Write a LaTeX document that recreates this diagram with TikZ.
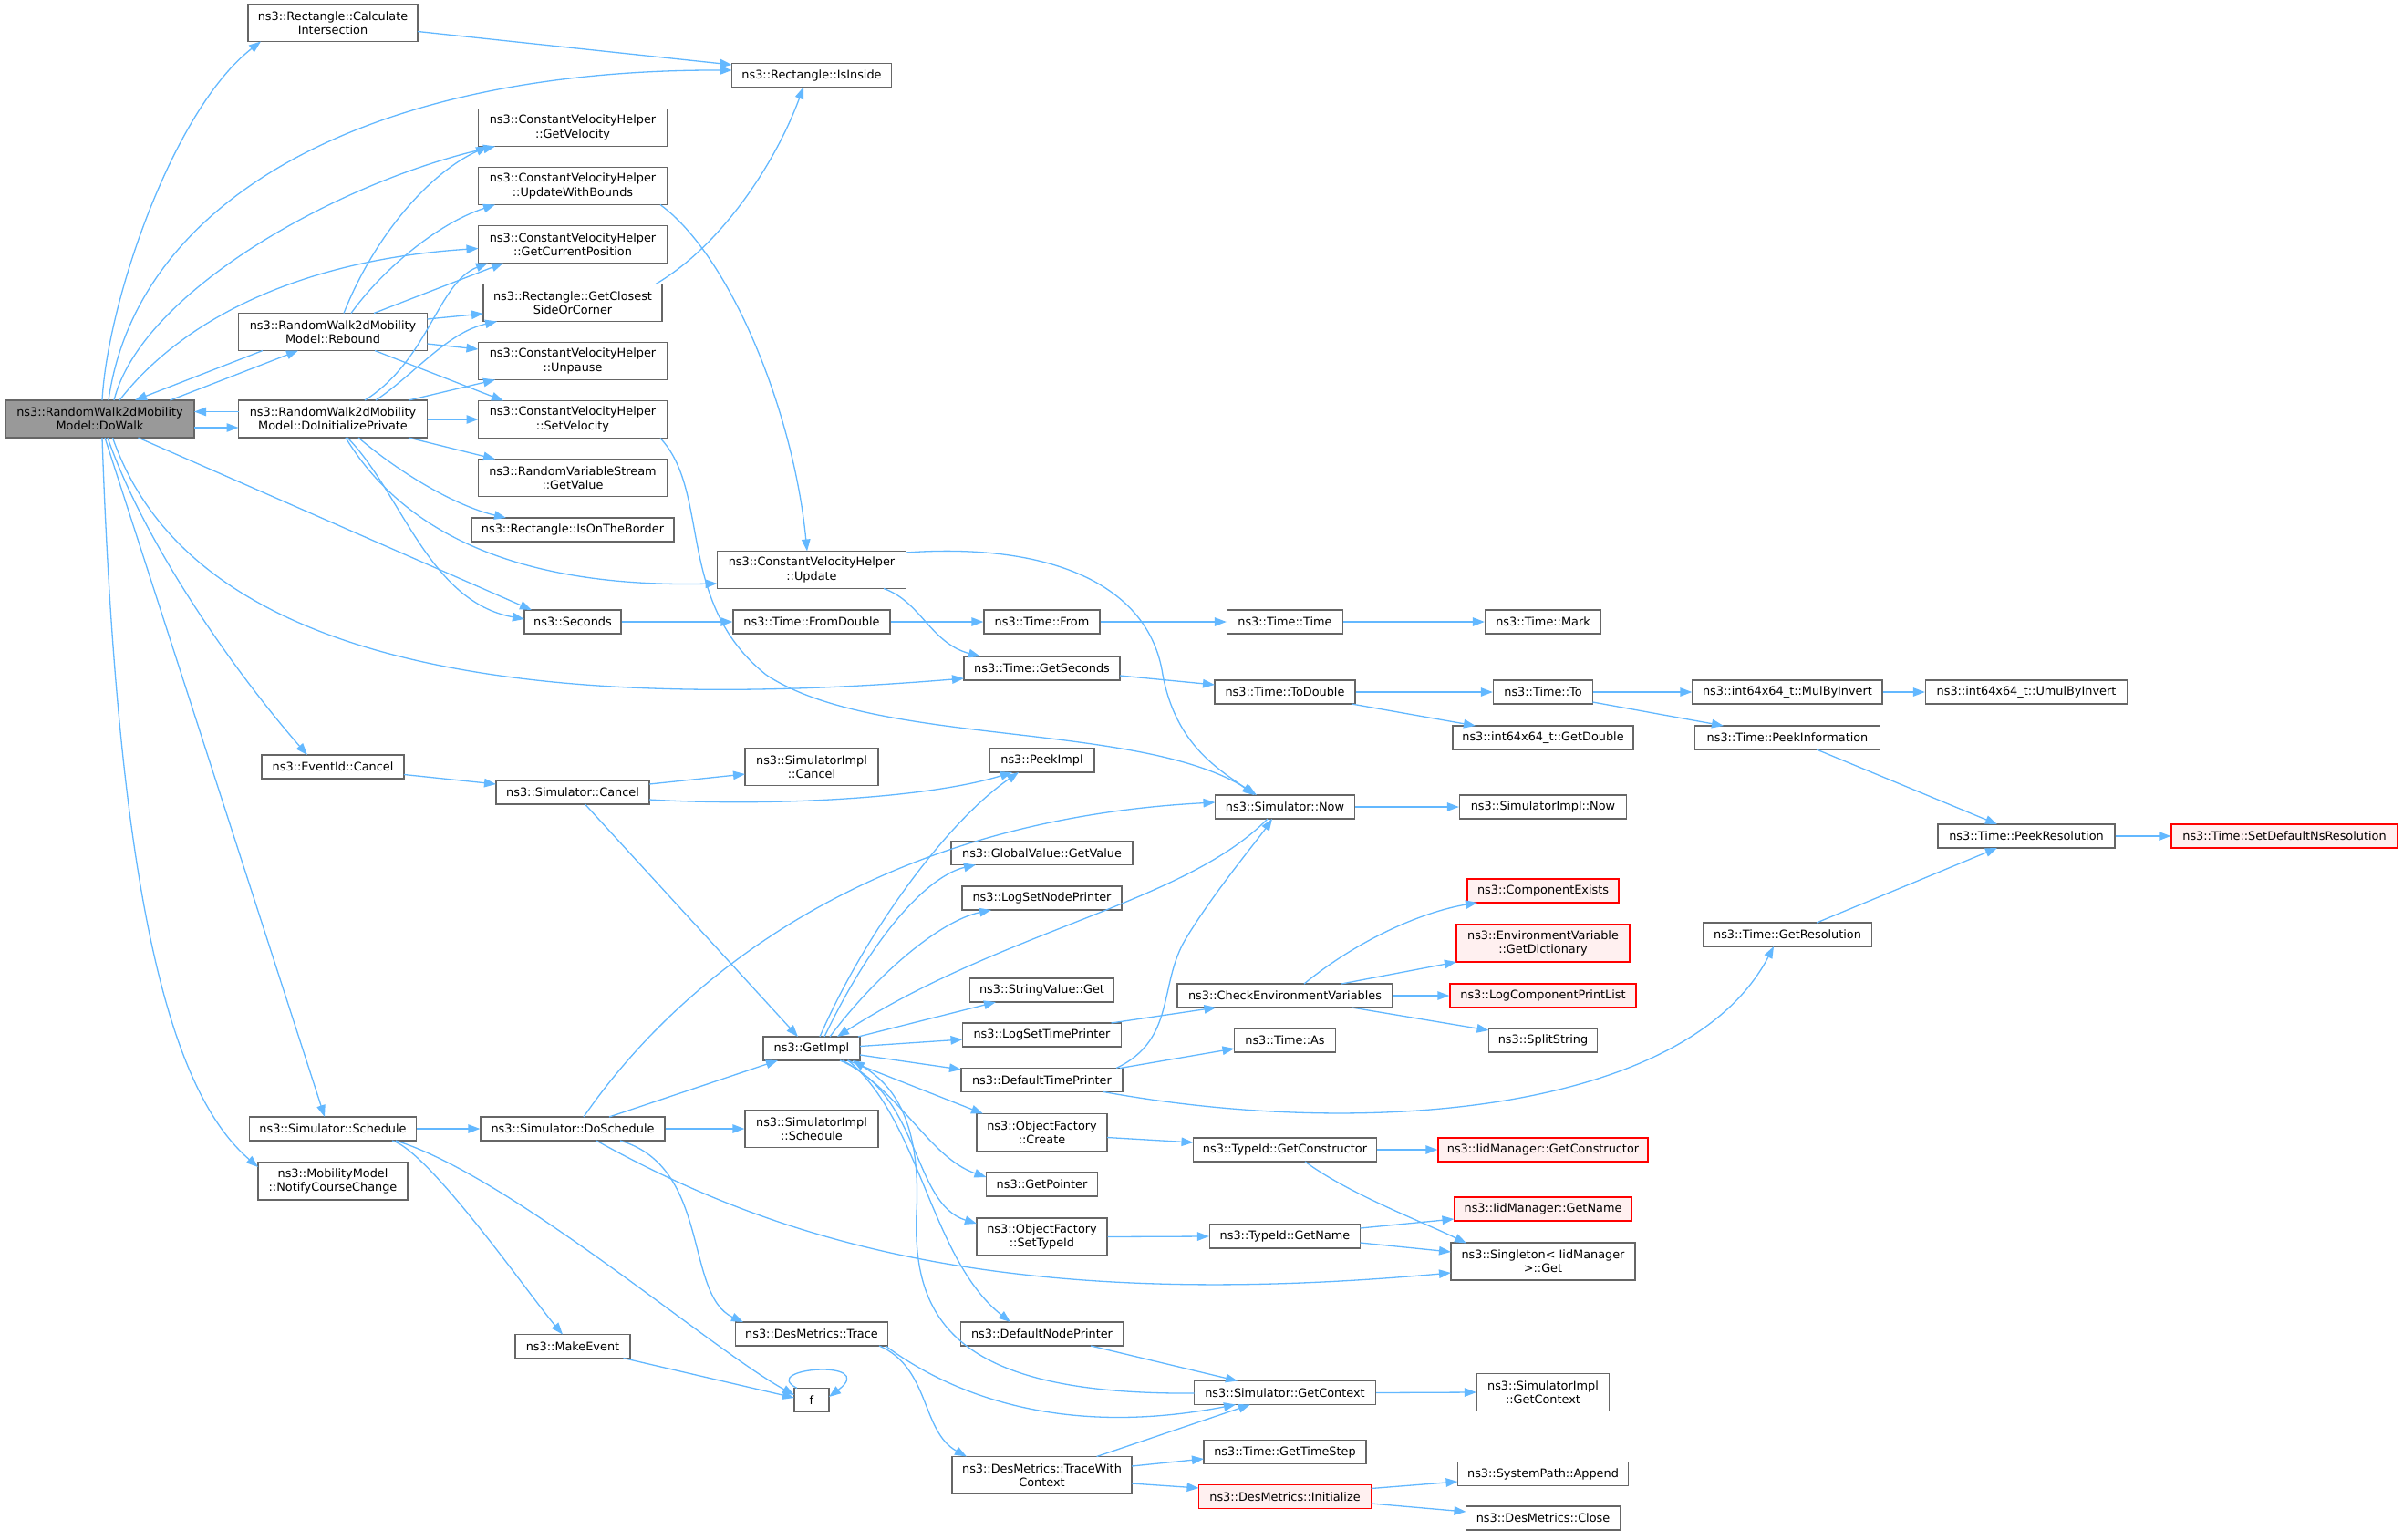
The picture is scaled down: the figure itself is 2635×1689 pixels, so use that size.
\documentclass[tikz,border=0pt]{standalone}
\usepackage{fontspec}
\setmainfont{DejaVu Sans}
\usetikzlibrary{arrows.meta}
\definecolor{edgec}{HTML}{63B8FF}
\definecolor{bord}{HTML}{666666}
\definecolor{grayf}{HTML}{999999}
\definecolor{redf}{HTML}{FFF0F0}
\begin{document}
\begin{tikzpicture}[x=1pt,y=-1pt,
 box/.style={draw=bord,line width=1.3pt,fill=white,inner sep=0pt,align=center,font=\fontsize{12.85}{15.3}\selectfont,minimum height=26pt},
 two/.style={minimum height=41pt},
 redbox/.style={draw=red,fill=redf},
 edge/.style={draw=edgec,line width=1.3pt,-{Triangle[length=13pt,width=9.5pt]}}]
\useasboundingbox (0,0) rectangle (2635,1689);
% ---------- nodes ----------
\node[box,two,fill=grayf,minimum width=207pt] (dowalk) at (109.5,459.5) {ns3::RandomWalk2dMobility\\Model::DoWalk};
\node[box,two,minimum width=186pt] (calcint) at (365,25) {ns3::Rectangle::Calculate\\Intersection};
\node[box,minimum width=175pt] (isinside) at (890,82.5) {ns3::Rectangle::IsInside};
\node[box,two,minimum width=207pt] (getvel) at (628,140) {ns3::ConstantVelocityHelper\\::GetVelocity};
\node[box,two,minimum width=207pt] (updwb) at (628,204) {ns3::ConstantVelocityHelper\\::UpdateWithBounds};
\node[box,two,minimum width=207pt] (getcurpos) at (628,268) {ns3::ConstantVelocityHelper\\::GetCurrentPosition};
\node[box,two,minimum width=196pt] (closest) at (628,332) {ns3::Rectangle::GetClosest\\SideOrCorner};
\node[box,two,minimum width=207pt] (rebound) at (365,364) {ns3::RandomWalk2dMobility\\Model::Rebound};
\node[box,two,minimum width=207pt] (unpause) at (628,396) {ns3::ConstantVelocityHelper\\::Unpause};
\node[box,two,minimum width=207pt] (setvel) at (628,460) {ns3::ConstantVelocityHelper\\::SetVelocity};
\node[box,two,minimum width=207pt] (doinit) at (365,459.5) {ns3::RandomWalk2dMobility\\Model::DoInitializePrivate};
\node[box,two,minimum width=207pt] (rvs) at (628,524) {ns3::RandomVariableStream\\::GetValue};
\node[box,minimum width=222pt] (onborder) at (628,581) {ns3::Rectangle::IsOnTheBorder};
\node[box,two,minimum width=207pt] (cvhupdate) at (890,625) {ns3::ConstantVelocityHelper\\::Update};
\node[box,minimum width=106pt] (seconds) at (628,682) {ns3::Seconds};
\node[box,minimum width=172pt] (fromdouble) at (890,682) {ns3::Time::FromDouble};
\node[box,minimum width=127pt] (from) at (1142.5,682) {ns3::Time::From};
\node[box,minimum width=127pt] (timetime) at (1409,682) {ns3::Time::Time};
\node[box,minimum width=127pt] (mark) at (1692,682) {ns3::Time::Mark};
\node[box,minimum width=171pt] (getseconds) at (1142.5,733) {ns3::Time::GetSeconds};
\node[box,minimum width=154pt] (todouble) at (1409,759) {ns3::Time::ToDouble};
\node[box,minimum width=109pt] (to) at (1692,759) {ns3::Time::To};
\node[box,minimum width=208pt] (mulbyinv) at (1960,759) {ns3::int64x64\_t::MulByInvert};
\node[box,minimum width=221pt] (umulbyinv) at (2222,759) {ns3::int64x64\_t::UmulByInvert};
\node[box,minimum width=198pt] (getdouble) at (1692,809) {ns3::int64x64\_t::GetDouble};
\node[box,minimum width=203pt] (peekinfo) at (1960,809) {ns3::Time::PeekInformation};
\node[box,minimum width=194pt] (peekres) at (2222,917) {ns3::Time::PeekResolution};
\node[box,redbox,minimum width=248pt] (setdefns) at (2505,917) {ns3::Time::SetDefaultNsResolution};
\node[box,minimum width=156pt] (eventcancel) at (365,841) {ns3::EventId::Cancel};
\node[box,minimum width=168pt] (simcancel) at (628,869) {ns3::Simulator::Cancel};
\node[box,two,minimum width=146pt] (implcancel) at (890,841) {ns3::SimulatorImpl\\::Cancel};
\node[box,minimum width=115pt] (peekimpl) at (1142.5,834) {ns3::PeekImpl};
\node[box,minimum width=153pt] (simnow) at (1409,885) {ns3::Simulator::Now};
\node[box,minimum width=183pt] (implnow) at (1692,885) {ns3::SimulatorImpl::Now};
\node[box,minimum width=199pt] (gvgetvalue) at (1142.5,935.5) {ns3::GlobalValue::GetValue};
\node[box,minimum width=175pt] (logsetnode) at (1142.5,985) {ns3::LogSetNodePrinter};
\node[box,redbox,minimum width=166pt] (compexists) at (1692,977) {ns3::ComponentExists};
\node[box,redbox,two,minimum width=190pt] (getdict) at (1692,1034.5) {ns3::EnvironmentVariable\\::GetDictionary};
\node[box,minimum width=185pt] (getres) at (1960,1025) {ns3::Time::GetResolution};
\node[box,minimum width=158pt] (stringget) at (1142.5,1086) {ns3::StringValue::Get};
\node[box,minimum width=236pt] (checkenv) at (1409,1092) {ns3::CheckEnvironmentVariables};
\node[box,redbox,minimum width=204pt] (logcomp) at (1692,1092) {ns3::LogComponentPrintList};
\node[box,minimum width=174pt] (logsettime) at (1142.5,1135) {ns3::LogSetTimePrinter};
\node[box,minimum width=106pt] (getimpl) at (890,1150) {ns3::GetImpl};
\node[box,minimum width=111pt] (timeas) at (1409,1141) {ns3::Time::As};
\node[box,minimum width=119pt] (splitstring) at (1692,1141) {ns3::SplitString};
\node[box,minimum width=177pt] (deftimeprinter) at (1142.5,1184.5) {ns3::DefaultTimePrinter};
\node[box,two,minimum width=143pt] (ofcreate) at (1142.5,1242) {ns3::ObjectFactory\\::Create};
\node[box,minimum width=201pt] (getconstructor) at (1409,1261) {ns3::TypeId::GetConstructor};
\node[box,redbox,minimum width=230pt] (iidgetcons) at (1692,1261) {ns3::IidManager::GetConstructor};
\node[box,minimum width=183pt] (schedule) at (365,1238) {ns3::Simulator::Schedule};
\node[box,minimum width=202pt] (doschedule) at (628,1238) {ns3::Simulator::DoSchedule};
\node[box,two,minimum width=146pt] (implschedule) at (890,1238) {ns3::SimulatorImpl\\::Schedule};
\node[box,two,minimum width=164pt] (notify) at (365,1295.5) {ns3::MobilityModel\\::NotifyCourseChange};
\node[box,minimum width=122pt] (getpointer) at (1142.5,1299) {ns3::GetPointer};
\node[box,redbox,minimum width=195pt] (iidgetname) at (1692,1326) {ns3::IidManager::GetName};
\node[box,two,minimum width=143pt] (settypeid) at (1142.5,1356.5) {ns3::ObjectFactory\\::SetTypeId};
\node[box,minimum width=165pt] (typeidgetname) at (1409,1356) {ns3::TypeId::GetName};
\node[box,two,minimum width=202pt] (singleton) at (1692,1383.5) {ns3::Singleton< IidManager\\>::Get};
\node[box,minimum width=126pt] (makeevent) at (628,1476.5) {ns3::MakeEvent};
\node[box,minimum width=167pt] (trace) at (890,1463) {ns3::DesMetrics::Trace};
\node[box,minimum width=178pt] (defnodeprinter) at (1142.5,1463) {ns3::DefaultNodePrinter};
\node[box,minimum width=38pt] (f) at (890,1535.5) {f};
\node[box,minimum width=199pt] (getcontext) at (1409,1527.5) {ns3::Simulator::GetContext};
\node[box,two,minimum width=145pt] (implgetcontext) at (1692,1527) {ns3::SimulatorImpl\\::GetContext};
\node[box,two,minimum width=197pt] (tracewc) at (1142.5,1618) {ns3::DesMetrics::TraceWith\\Context};
\node[box,minimum width=178pt] (gettimestep) at (1409,1592.5) {ns3::Time::GetTimeStep};
\node[box,redbox,minimum width=189pt] (initialize) at (1409,1641.5) {ns3::DesMetrics::Initialize};
\node[box,minimum width=187pt] (append) at (1692,1616.5) {ns3::SystemPath::Append};
\node[box,minimum width=169pt] (close) at (1692,1665) {ns3::DesMetrics::Close};
% ---------- edges from DoWalk ----------
\draw[edge] ([shift={(2.5,-20.5)}]dowalk.center) .. controls (118,330) and (190,120) .. ([shift={(-79,20.5)}]calcint.center);
\draw[edge] ([shift={(9.5,-20.5)}]dowalk.center) .. controls (150,220) and (400,76) .. ([shift={(-87.5,-5.5)}]isinside.center);
\draw[edge] ([shift={(15.5,-20.5)}]dowalk.center) .. controls (155,320) and (370,200) .. ([shift={(-85,20.5)}]getvel.center);
\draw[edge] ([shift={(21.5,-20.5)}]dowalk.center) .. controls (200,350) and (330,285) .. ([shift={(-103.5,4.5)}]getcurpos.center);
\draw[edge] ([shift={(77,-20.5)}]dowalk.center) -- ([shift={(-38,20.5)}]rebound.center);
\draw[edge] ([shift={(-77,20.5)}]rebound.center) -- ([shift={(38.5,-20.5)}]dowalk.center);
\draw[edge] ([shift={(103.5,9.5)}]dowalk.center) -- ([shift={(-103.5,9.5)}]doinit.center);
\draw[edge] ([shift={(-103.5,-8)}]doinit.center) -- ([shift={(103.5,-8)}]dowalk.center);
\draw[edge] ([shift={(42,20.5)}]dowalk.center) -- ([shift={(-45,-13)}]seconds.center);
\draw[edge] ([shift={(14,20.5)}]dowalk.center) .. controls (200,700) and (500,790) .. ([shift={(-85.5,11)}]getseconds.center);
\draw[edge] ([shift={(8.5,20.5)}]dowalk.center) .. controls (160,600) and (260,740) .. ([shift={(-28,-13)}]eventcancel.center);
\draw[edge] ([shift={(5.5,20.5)}]dowalk.center) -- ([shift={(-9,-13)}]schedule.center);
\draw[edge] ([shift={(2.5,20.5)}]dowalk.center) .. controls (130,1000) and (190,1200) .. ([shift={(-82,-15.5)}]notify.center);
% ---------- Rebound ----------
\draw[edge] ([shift={(12,-20.5)}]rebound.center) .. controls (410,260) and (470,190) .. ([shift={(-93,20.5)}]getvel.center);
\draw[edge] ([shift={(20,-20.5)}]rebound.center) .. controls (420,295) and (480,245) .. ([shift={(-85,20.5)}]updwb.center);
\draw[edge] ([shift={(45,-20.5)}]rebound.center) -- ([shift={(-76,20.5)}]getcurpos.center);
\draw[edge] ([shift={(103.5,-14)}]rebound.center) -- ([shift={(-98,12)}]closest.center);
\draw[edge] ([shift={(103.5,13)}]rebound.center) -- ([shift={(-103.5,-13)}]unpause.center);
\draw[edge] ([shift={(46,20.5)}]rebound.center) -- ([shift={(-76,-20.5)}]setvel.center);
% ---------- DoInitializePrivate ----------
\draw[edge] ([shift={(35,-20.5)}]doinit.center) .. controls (470,395) and (480,310) .. ([shift={(-93,20.5)}]getcurpos.center);
\draw[edge] ([shift={(47,-20.5)}]doinit.center) .. controls (455,410) and (490,365) .. ([shift={(-83,20.5)}]closest.center);
\draw[edge] ([shift={(83,-20.5)}]doinit.center) -- ([shift={(-85,20.5)}]unpause.center);
\draw[edge] ([shift={(103.5,0.5)}]doinit.center) -- ([shift={(-103.5,0)}]setvel.center);
\draw[edge] ([shift={(83,20.5)}]doinit.center) -- ([shift={(-85,-20.5)}]rvs.center);
\draw[edge] ([shift={(28,20.5)}]doinit.center) .. controls (440,520) and (500,555) .. ([shift={(-73,-13)}]onborder.center);
\draw[edge] ([shift={(16,20.5)}]doinit.center) .. controls (440,540) and (470,660) .. ([shift={(-53,-3)}]seconds.center);
\draw[edge] ([shift={(14,20.5)}]doinit.center) .. controls (440,580) and (560,645) .. ([shift={(-103.5,15)}]cvhupdate.center);
% ---------- ConstantVelocityHelper / Rectangle ----------
\draw[edge] ([shift={(96,20.5)}]updwb.center) .. controls (800,280) and (870,450) .. ([shift={(-5,-20.5)}]cvhupdate.center);
\draw[edge] ([shift={(91,-20.5)}]closest.center) .. controls (790,270) and (850,180) .. ([shift={(-9,13)}]isinside.center);
\draw[edge] ([shift={(93,9.5)}]calcint.center) -- ([shift={(-87.5,-11.5)}]isinside.center);
\draw[edge] ([shift={(96,20.5)}]setvel.center) .. controls (780,540) and (740,660) .. (840,740) .. controls (960,820) and (1250,790) .. ([shift={(-31,-13)}]simnow.center);
\draw[edge] ([shift={(79,20.5)}]cvhupdate.center) .. controls (1010,660) and (1020,705) .. ([shift={(-67.5,-13)}]getseconds.center);
\draw[edge] ([shift={(103.5,-19)}]cvhupdate.center) .. controls (1150,595) and (1260,640) .. (1275,740) .. controls (1290,820) and (1340,845) .. ([shift={(-34,-13)}]simnow.center);
% ---------- Time ----------
\draw[edge] (seconds.east) -- (fromdouble.west);
\draw[edge] (fromdouble.east) -- (from.west);
\draw[edge] (from.east) -- (timetime.west);
\draw[edge] (timetime.east) -- (mark.west);
\draw[edge] ([shift={(85.5,8)}]getseconds.center) -- ([shift={(-77,-8)}]todouble.center);
\draw[edge] (todouble.east) -- (to.west);
\draw[edge] ([shift={(73,13)}]todouble.center) -- ([shift={(-74,-13)}]getdouble.center);
\draw[edge] (to.east) -- (mulbyinv.west);
\draw[edge] ([shift={(54.5,11)}]to.center) -- ([shift={(-70,-13)}]peekinfo.center);
\draw[edge] (mulbyinv.east) -- (umulbyinv.west);
\draw[edge] ([shift={(32,13)}]peekinfo.center) -- ([shift={(-32,-13)}]peekres.center);
\draw[edge] ([shift={(32,-13)}]getres.center) -- ([shift={(-32,13)}]peekres.center);
\draw[edge] (peekres.east) -- (setdefns.west);
% ---------- Cancel / Now ----------
\draw[edge] ([shift={(78,8.5)}]eventcancel.center) -- ([shift={(-84,-9)}]simcancel.center);
\draw[edge] ([shift={(84,-9)}]simcancel.center) -- ([shift={(-73,8)}]implcancel.center);
\draw[edge] ([shift={(84,8)}]simcancel.center) .. controls (850,885) and (1020,875) .. ([shift={(-32.5,13)}]peekimpl.center);
\draw[edge] ([shift={(13.5,13)}]simcancel.center) -- ([shift={(-15,-13)}]getimpl.center);
\draw[edge] (simnow.east) -- (implnow.west);
% ---------- GetImpl ----------
\draw[edge] ([shift={(9,-13)}]getimpl.center) .. controls (950,1020) and (1040,900) .. ([shift={(-25.5,13)}]peekimpl.center);
\draw[edge] ([shift={(14,-13)}]getimpl.center) .. controls (960,1020) and (1020,960) .. ([shift={(-72.5,13)}]gvgetvalue.center);
\draw[edge] ([shift={(20,-13)}]getimpl.center) .. controls (960,1070) and (1030,1010) .. ([shift={(-55.5,13)}]logsetnode.center);
\draw[edge] ([shift={(-19,13)}]simnow.center) .. controls (1300,990) and (1100,1020) .. ([shift={(28,-13)}]getimpl.center);
\draw[edge] ([shift={(51,-13)}]getimpl.center) -- ([shift={(-50.5,13)}]stringget.center);
\draw[edge] ([shift={(53,-2.5)}]getimpl.center) -- ([shift={(-87,5)}]logsettime.center);
\draw[edge] ([shift={(53,7)}]getimpl.center) -- ([shift={(-88.5,-11.5)}]deftimeprinter.center);
\draw[edge] ([shift={(39.5,13)}]getimpl.center) -- ([shift={(-64.5,-20.5)}]ofcreate.center);
\draw[edge] ([shift={(34,13)}]getimpl.center) .. controls (990,1200) and (1020,1270) .. ([shift={(-61,-8)}]getpointer.center);
\draw[edge] ([shift={(31,13)}]getimpl.center) .. controls (1010,1200) and (1000,1320) .. ([shift={(-71.5,-14.5)}]settypeid.center);
\draw[edge] ([shift={(40,13)}]getimpl.center) .. controls (1010,1230) and (1020,1380) .. ([shift={(-34.5,-13)}]defnodeprinter.center);
\draw[edge] ([shift={(-99.5,0.5)}]getcontext.center) .. controls (1050,1530) and (1000,1450) .. (1005,1330) .. controls (1010,1230) and (980,1190) .. ([shift={(45,13)}]getimpl.center);
% ---------- Schedule ----------
\draw[edge] ([shift={(40,-13)}]doschedule.center) -- ([shift={(-37,13)}]getimpl.center);
\draw[edge] ([shift={(12,-13)}]doschedule.center) .. controls (740,1080) and (950,900) .. ([shift={(-76.5,-5)}]simnow.center);
\draw[edge] (doschedule.east) -- (implschedule.west);
\draw[edge] ([shift={(26,13)}]doschedule.center) .. controls (850,1360) and (1100,1440) .. ([shift={(-101,12.5)}]singleton.center);
\draw[edge] ([shift={(52,13)}]doschedule.center) .. controls (780,1280) and (750,1420) .. ([shift={(-75,-13)}]trace.center);
\draw[edge] (schedule.east) -- (doschedule.west);
\draw[edge] ([shift={(65,13)}]schedule.center) .. controls (470,1262) and (580,1420) .. ([shift={(-11,-13)}]makeevent.center);
\draw[edge] ([shift={(69,13)}]schedule.center) .. controls (560,1290) and (780,1480) .. ([shift={(-19,-5.5)}]f.center);
\draw[edge] ([shift={(55.5,13)}]makeevent.center) -- ([shift={(-19,-2.5)}]f.center);
\draw[edge] ([shift={(-16,-13)}]f.center) .. controls (830,1500) and (965,1490) .. ([shift={(19,-3.5)}]f.center);
% ---------- DesMetrics / Context ----------
\draw[edge] ([shift={(74,13)}]trace.center) .. controls (1020,1500) and (1010,1570) .. ([shift={(-82.5,-20.5)}]tracewc.center);
\draw[edge] ([shift={(81,13)}]trace.center) .. controls (1030,1520) and (1150,1580) .. ([shift={(-54,13)}]getcontext.center);
\draw[edge] ([shift={(53.5,13)}]defnodeprinter.center) -- ([shift={(-52,-13)}]getcontext.center);
\draw[edge] (getcontext.east) -- (implgetcontext.west);
\draw[edge] ([shift={(60,-20.5)}]tracewc.center) -- ([shift={(-38,13)}]getcontext.center);
\draw[edge] ([shift={(98.5,-10)}]tracewc.center) -- ([shift={(-89,7.5)}]gettimestep.center);
\draw[edge] ([shift={(98.5,9)}]tracewc.center) -- ([shift={(-94.5,-9.5)}]initialize.center);
\draw[edge] ([shift={(94.5,-9)}]initialize.center) -- ([shift={(-93.5,8.5)}]append.center);
\draw[edge] ([shift={(94.5,7.5)}]initialize.center) -- ([shift={(-84.5,-7)}]close.center);
% ---------- Log / Env / TypeId ----------
\draw[edge] ([shift={(76,-13)}]logsettime.center) -- ([shift={(-75.5,13)}]checkenv.center);
\draw[edge] ([shift={(21,-13)}]checkenv.center) .. controls (1490,1030) and (1560,1000) .. ([shift={(-72,13)}]compexists.center);
\draw[edge] ([shift={(62,-13)}]checkenv.center) -- ([shift={(-95,20.5)}]getdict.center);
\draw[edge] (checkenv.east) -- (logcomp.west);
\draw[edge] ([shift={(73.5,13)}]checkenv.center) -- ([shift={(-59.5,-11)}]splitstring.center);
\draw[edge] ([shift={(81.5,-13)}]deftimeprinter.center) .. controls (1290,1140) and (1270,1080) .. (1300,1030) .. controls (1330,980) and (1380,920) .. ([shift={(-14,13)}]simnow.center);
\draw[edge] ([shift={(85.5,-13)}]deftimeprinter.center) -- ([shift={(-55.5,9)}]timeas.center);
\draw[edge] ([shift={(67.5,13)}]deftimeprinter.center) .. controls (1500,1250) and (1850,1220) .. ([shift={(-15,13)}]getres.center);
\draw[edge] ([shift={(71.5,5.5)}]ofcreate.center) -- ([shift={(-100.5,-8)}]getconstructor.center);
\draw[edge] (getconstructor.east) -- (iidgetcons.west);
\draw[edge] ([shift={(22,13)}]getconstructor.center) .. controls (1480,1310) and (1560,1340) .. ([shift={(-84,-20)}]singleton.center);
\draw[edge] (settypeid.east) -- (typeidgetname.west);
\draw[edge] ([shift={(82.5,-9)}]typeidgetname.center) -- ([shift={(-97.5,11)}]iidgetname.center);
\draw[edge] ([shift={(82.5,7)}]typeidgetname.center) -- ([shift={(-101,-10.5)}]singleton.center);
\end{tikzpicture}
\end{document}
